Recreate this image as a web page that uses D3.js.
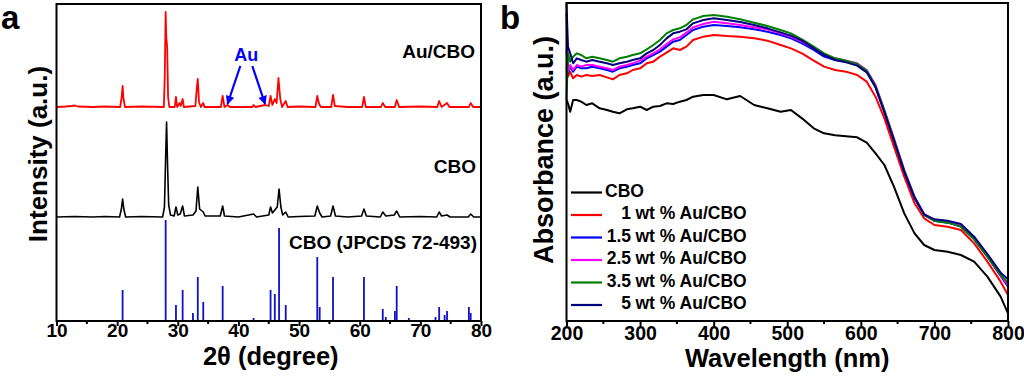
<!DOCTYPE html>
<html><head><meta charset="utf-8">
<script src="https://cdn.jsdelivr.net/npm/d3@7"></script>
<style>
body{margin:0;background:#fff;}
svg{display:block;font-family:"Liberation Sans",Arial,sans-serif;font-weight:bold;}
</style></head>
<body><svg id="c" width="1024" height="380"></svg>
<script>
// ---------- Panel a: XRD ----------
const xrdTicks = [10,20,30,40,50,60,70,80];
// Au/CBO pattern [2theta, intensity]
const xrdAuCBO = [[10,0],[11.5,0.5],[12.5,1],[13,1.5],[13.5,0.5],[16,0],[18,0.5],[20.5,0],[20.75,10],[20.9,21],[21.05,8],[21.3,0],[24,0.5],[27.7,0],[27.85,30],[28.0,95],[28.1,70],[28.25,60],[28.4,10],[28.6,0],[29.5,0],[29.7,10],[29.9,0],[30.3,4],[30.5,1],[30.8,8],[31.0,0],[32.9,1],[33.15,20],[33.3,28],[33.5,5],[33.8,0],[34.2,4],[34.4,0],[37.1,0],[37.4,11],[37.7,0],[38.2,2],[38.6,0],[42.3,0],[42.5,2],[42.8,0],[44.4,2],[45.0,1],[45.3,11],[45.6,2],[46.0,8],[46.3,4],[46.6,29],[46.9,8],[47.2,0],[47.8,6],[48.1,0],[50,0.5],[52.7,0],[53.0,11],[53.3,3],[53.6,0],[55.3,0],[55.6,12],[55.9,1],[58,0],[60.4,0],[60.7,10],[61.0,0],[63.5,0],[63.8,4],[64.2,0],[65.8,0],[66.1,7],[66.5,0],[70,0.5],[72.8,0],[73.1,6],[73.5,0],[74.4,4],[74.8,0],[78.0,0],[78.3,4],[78.7,0],[80,0]];
// CBO pattern
const xrdCBO = [[10,0],[13,0.5],[16,0],[18,0.5],[20.4,0],[20.7,8],[20.9,18],[21.1,8],[21.4,0],[24,0.5],[27.5,0],[27.8,10],[28.0,60],[28.15,95],[28.3,55],[28.5,12],[28.8,2],[29.4,1],[29.7,10],[30.0,2],[30.4,3],[30.8,11],[31.1,1],[32.5,2],[33.0,6],[33.3,30],[33.6,8],[34.2,5],[34.5,1],[37.0,1],[37.4,11],[37.7,1],[40,0],[42.5,3],[43,0],[45.0,2],[45.3,10],[45.6,4],[46.0,7],[46.4,10],[46.7,28],[47.0,10],[47.3,2],[47.8,5],[48.2,0],[50,0.5],[52.6,1],[53.0,11],[53.4,4],[53.8,0],[55.2,1],[55.6,11],[56.0,1],[58,0],[60.3,1],[60.7,8],[61.1,1],[63.4,0],[63.8,5],[64.3,1],[65.7,2],[66.1,6],[66.6,0],[70,0.5],[72.7,0],[73.1,5],[73.5,1],[74.4,2],[74.9,0],[77.9,0],[78.3,3],[78.8,0],[80,0]];
// JCPDS reference lines [2theta, relative intensity]
const refPos = [20.9,28.0,29.7,30.8,32.5,33.3,34.2,37.4,42.5,45.3,46.0,46.7,47.8,53.0,53.4,55.6,60.7,63.8,64.3,65.8,66.1,68.1,72.5,73.1,74.0,74.4,78.0,78.3];
const refInt = [31,101,16,31,8,44,19,35,3,31,27,93,16,64,14,44,44,12,4,10,35,3,4,14,6,10,14,8];
const auPeaks = [38.2,44.4];
const offsetCBO = 104, offsetAu = 214;

// ---------- Panel b: UV-vis ----------
const wl = [200,202,205,209,214,220,227,235,245,255,263,272,282,290,300,309,318,327,336,345,354,363,372,386,400,418,436,455,473,491,505,520,536,550,565,580,595,608,620,632,645,659,673,686,700,718,736,754,772,790,800];
const absCBO = [663,653,628,663,663,658,648,653,638,633,628,623,635,638,643,633,643,645,653,651,658,663,673,678,678,665,675,648,638,628,633,608,578,563,557,554,551,535,503,468,403,323,263,228,213,208,198,178,133,73,23];
const abs1 = [763,733,748,728,738,733,738,735,738,731,725,738,743,753,758,773,778,793,805,818,813,823,843,853,858,855,853,848,841,828,818,803,781,763,753,748,738,718,673,608,523,433,353,308,288,283,273,233,178,118,78];
const abs15 = [923,743,763,748,763,758,758,763,758,753,748,758,763,768,773,788,798,808,823,838,843,858,873,883,888,885,881,875,868,858,848,833,813,793,783,778,768,748,701,628,543,448,368,318,300,295,283,245,193,135,103];
const abs25 = [813,748,768,753,768,763,768,768,763,758,753,763,768,773,781,793,803,815,831,845,851,865,881,891,898,893,888,881,875,863,853,838,818,801,788,781,773,753,708,633,548,453,373,321,303,298,285,248,195,138,108];
const abs35 = [663,803,778,793,803,798,788,793,788,783,778,788,793,798,803,815,828,843,863,873,878,888,905,915,918,913,905,895,885,873,863,845,823,803,788,781,771,751,705,631,545,451,371,318,301,295,283,245,193,138,115];
const abs5 = [953,823,803,773,788,783,778,783,778,773,768,773,778,783,788,803,813,828,848,863,868,875,893,903,908,903,897,888,878,866,856,841,818,798,783,776,766,746,701,626,541,448,370,320,305,301,291,253,201,145,125];
const uvSeries = ["CBO","1 wt % Au/CBO","1.5 wt % Au/CBO","2.5 wt % Au/CBO","3.5 wt % Au/CBO","5 wt % Au/CBO"];
const uvColors = ["#000000","#ff0000","#0000ff","#ff00ff","#008000","#000080"];
const uvValues = [absCBO,abs1,abs15,abs25,abs35,abs5];
const uvTicks = [200,300,400,500,600,700,800];

const svg = d3.select("#c");

// ===== Panel a =====
const xa = d3.scaleLinear().domain([10,80]).range([56.5,481]);
const ya = d3.scaleLinear().domain([0,317]).range([321,4]);
const ga = svg.append("g");

ga.selectAll("line.ref").data(refPos).join("line")
  .attr("x1",d=>xa(d)).attr("x2",d=>xa(d))
  .attr("y1",ya(0)).attr("y2",(d,i)=>ya(refInt[i]))
  .attr("stroke","#1010c8").attr("stroke-width",1.8);

const lineA = off => d3.line().x(d=>xa(d[0])).y(d=>ya(d[1]+off));
ga.append("path").datum(xrdCBO).attr("d",lineA(offsetCBO))
  .attr("fill","none").attr("stroke","#000").attr("stroke-width",1.6).attr("stroke-linejoin","round");
ga.append("path").datum(xrdAuCBO).attr("d",lineA(offsetAu))
  .attr("fill","none").attr("stroke","#ff0000").attr("stroke-width",1.8).attr("stroke-linejoin","round");

// axis
const axA = d3.axisBottom(xa).tickValues(xrdTicks).tickSize(5).tickFormat(d3.format("d"));
const gA = ga.append("g").attr("transform",`translate(0,${ya(0)})`).call(axA);
gA.select(".domain").remove();
gA.selectAll(".tick line").attr("stroke-width",2);
gA.selectAll(".tick text").attr("font-size",19).attr("font-family","Liberation Sans, Arial").attr("font-weight","bold").attr("dy","0.42em").attr("fill","#000");
const minorA = d3.range(15,80,10);
ga.selectAll("line.mn").data(minorA).join("line")
  .attr("x1",d=>xa(d)).attr("x2",d=>xa(d)).attr("y1",ya(0)).attr("y2",ya(0)+3)
  .attr("stroke","#000").attr("stroke-width",2);
ga.append("rect").attr("x",xa(10)).attr("y",ya(317)).attr("width",xa(80)-xa(10)).attr("height",ya(0)-ya(317))
  .attr("fill","none").attr("stroke","#000").attr("stroke-width",2);

// labels
ga.append("text").attr("x",475).attr("y",ya(offsetAu)-49).attr("text-anchor","end").attr("font-size",19).text("Au/CBO");
ga.append("text").attr("x",476).attr("y",ya(offsetCBO)-44).attr("text-anchor","end").attr("font-size",19).text("CBO");
ga.append("text").attr("x",477).attr("y",249).attr("text-anchor","end").attr("font-size",19).text("CBO (JPCDS 72-493)");

// Au annotation
const auX = xa(d3.mean(auPeaks));
const auBase = ya(offsetAu);
ga.append("text").attr("x",auX).attr("y",auBase-46).attr("text-anchor","middle").attr("font-size",18).attr("fill","#0000ff").text("Au");
const defs = svg.append("defs");
defs.append("marker").attr("id","arr").attr("viewBox","0 0 10 10").attr("refX",9).attr("refY",5)
  .attr("markerWidth",4.5).attr("markerHeight",4).attr("orient","auto")
  .append("path").attr("d","M0,0 L10,5 L0,10 Z").attr("fill","#0000ff");
ga.selectAll("line.au").data(auPeaks).join("line")
  .attr("x1",(d,i)=>auX + (i===0?-6:6)).attr("y1",auBase-41)
  .attr("x2",d=>xa(d)).attr("y2",auBase-3)
  .attr("stroke","#0000ff").attr("stroke-width",2.2).attr("marker-end","url(#arr)");

ga.append("text").attr("transform","translate(47,154) rotate(-90)").attr("text-anchor","middle").attr("font-size",26).text("Intensity (a.u.)");
ga.append("text").attr("x",(xa(10)+xa(80))/2+2).attr("y",365).attr("text-anchor","middle").attr("font-size",25.5).text("2θ (degree)");
svg.append("text").attr("x",1).attr("y",29).attr("font-size",33).text("a");

// ===== Panel b =====
const xb = d3.scaleLinear().domain([200,800]).range([566.5,1008]);
const yb = d3.scaleLinear().domain([0,954]).range([321,3]);
const gb = svg.append("g");
const lineB = d3.line().x((d,i)=>xb(wl[i])).y(d=>yb(d));
gb.selectAll("path.uv").data(uvValues).join("path")
  .attr("d",d=>lineB(d)).attr("fill","none")
  .attr("stroke",(d,i)=>uvColors[i]).attr("stroke-width",2).attr("stroke-linejoin","round");

const axB = d3.axisBottom(xb).tickValues(uvTicks).tickSize(5).tickFormat(d3.format("d"));
const gB = gb.append("g").attr("transform",`translate(0,${yb(0)})`).call(axB);
gB.select(".domain").remove();
gB.selectAll(".tick line").attr("stroke-width",2);
gB.selectAll(".tick text").attr("font-size",19.5).attr("font-family","Liberation Sans, Arial").attr("font-weight","bold").attr("dy","0.56em").attr("fill","#000");
gb.selectAll("line.mn").data(d3.range(250,800,100)).join("line")
  .attr("x1",d=>xb(d)).attr("x2",d=>xb(d)).attr("y1",yb(0)).attr("y2",yb(0)+3)
  .attr("stroke","#000").attr("stroke-width",2);
gb.append("rect").attr("x",xb(200)).attr("y",yb(954)).attr("width",xb(800)-xb(200)).attr("height",yb(0)-yb(954))
  .attr("fill","none").attr("stroke","#000").attr("stroke-width",2);

// legend
const lg = gb.append("g");
uvSeries.forEach((s,i)=>{
  const y = 196.5 + i*22.5;
  lg.append("line").attr("x1",571).attr("x2",602).attr("y1",y-4).attr("y2",y-4)
    .attr("stroke",uvColors[i]).attr("stroke-width",2.2);
  const m = s.match(/^([\d.]+) (.*)$/);
  if(m){
    lg.append("text").attr("x",631).attr("y",y).attr("text-anchor","end").attr("font-size",17.5).text(m[1]);
    lg.append("text").attr("x",635.5).attr("y",y).attr("font-size",17.5).text(m[2]);
  } else {
    lg.append("text").attr("x",605).attr("y",y).attr("font-size",17.5).text(s);
  }
});

gb.append("text").attr("transform","translate(553,150) rotate(-90)").attr("text-anchor","middle").attr("font-size",27).text("Absorbance (a.u.)");
gb.append("text").attr("x",(xb(200)+xb(800))/2).attr("y",367).attr("text-anchor","middle").attr("font-size",25.5).text("Wavelength (nm)");
svg.append("text").attr("x",500).attr("y",29).attr("font-size",33).text("b");
</script></body></html>
